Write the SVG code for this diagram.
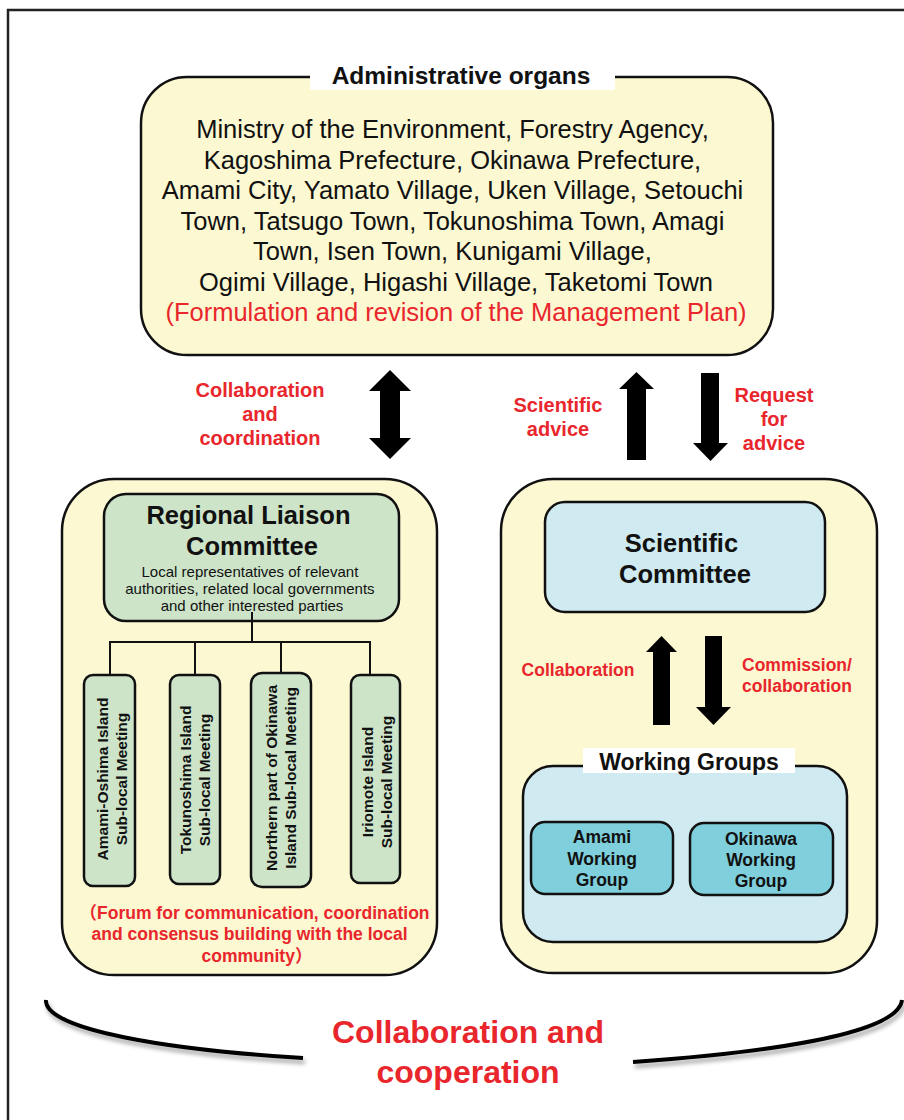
<svg xmlns="http://www.w3.org/2000/svg" width="904" height="1120" viewBox="0 0 904 1120">
<defs>
<filter id="sh" x="-5%" y="-20%" width="110%" height="160%">
<feDropShadow dx="2" dy="4" stdDeviation="2" flood-color="#000" flood-opacity="0.35"/>
</filter>
</defs>
<style>
text{font-family:"Liberation Sans","Noto Sans CJK JP",Arial,sans-serif;fill:#111}
.b{font-weight:bold}
.red{fill:#e8262c}
.yel{fill:#fbf8d2;stroke:#111;stroke-width:2.5}
.grn{fill:#cde4c9;stroke:#111;stroke-width:2.5}
.blu{fill:#cfeaf0;stroke:#111;stroke-width:2.5}
.teal{fill:#7fcfdc;stroke:#111;stroke-width:2.5}
.arr{fill:#000}
.ln{stroke:#111;stroke-width:2;fill:none}
.c{text-anchor:middle}
</style>
<rect width="904" height="1120" fill="#fff"/>
<path d="M904,10 H8 V1120" fill="none" stroke="#222" stroke-width="2.5"/>

<g id="admin">
<rect x="141" y="77" width="632" height="278" rx="46" class="yel" stroke-width="3"/>
<rect x="310" y="62" width="305" height="28" fill="#fff"/>
<text x="461" y="84" class="b c" font-size="24.5">Administrative organs</text>
<text class="c" font-size="25.5">
<tspan x="456" y="138">Ministry of the Environment, Forestry Agency,</tspan>
<tspan x="456" y="168.5">Kagoshima Prefecture, Okinawa Prefecture,</tspan>
<tspan x="456" y="199">Amami City, Yamato Village, Uken Village, Setouchi</tspan>
<tspan x="456" y="229.5">Town, Tatsugo Town, Tokunoshima Town, Amagi</tspan>
<tspan x="456" y="260">Town, Isen Town, Kunigami Village,</tspan>
<tspan x="456" y="290.5">Ogimi Village, Higashi Village, Taketomi Town</tspan>
</text>
<text x="456" y="321" class="c red" font-size="25.5">(Formulation and revision of the Management Plan)</text>
</g>

<g id="regional">
<rect x="62" y="479" width="375" height="496" rx="52" class="yel"/>
<text class="b c red" font-size="17.5">
<tspan x="257" y="919">（Forum for communication, coordination</tspan>
<tspan x="252" y="940">and consensus building with the local</tspan>
<tspan x="257" y="962">community）</tspan>
</text>
</g>

<g id="liaison">
<rect x="104" y="494" width="295" height="127" rx="22" class="grn"/>
<text class="b c" font-size="25.5">
<tspan x="252" y="524">Regional Liaison</tspan>
<tspan x="252" y="555">Committee</tspan>
</text>
<text class="c" font-size="15">
<tspan x="252" y="577">Local representatives of relevant</tspan>
<tspan x="252" y="594">authorities, related local governments</tspan>
<tspan x="252" y="611">and other interested parties</tspan>
</text>
</g>

<g id="sub1">
<rect x="84" y="675" width="51" height="211" rx="9" class="grn"/>
<text transform="translate(109.5,779) rotate(-90)" class="b c" font-size="15.5"><tspan x="0" y="-2">Amami-Oshima Island</tspan><tspan x="0" y="17">Sub-local Meeting</tspan></text>
</g>
<g id="sub2">
<rect x="170" y="675" width="50" height="209" rx="9" class="grn"/>
<text transform="translate(195,780) rotate(-90)" class="b c" font-size="15.5"><tspan x="0" y="-4">Tokunoshima Island</tspan><tspan x="0" y="15">Sub-local Meeting</tspan></text>
</g>
<g id="sub3">
<rect x="251" y="673" width="60" height="214" rx="11" class="grn"/>
<text transform="translate(281,778) rotate(-90)" class="b c" font-size="15.5"><tspan x="0" y="-4">Northern part  of Okinawa</tspan><tspan x="0" y="15">Island Sub-local Meeting</tspan></text>
</g>
<g id="sub4">
<rect x="351" y="675" width="49" height="208" rx="9" class="grn"/>
<text transform="translate(375.5,782) rotate(-90)" class="b c" font-size="15.5"><tspan x="0" y="-3">Iriomote Island</tspan><tspan x="0" y="16">Sub-local Meeting</tspan></text>
</g>

<g id="scientific-area">
<rect x="501" y="479" width="376" height="494" rx="52" class="yel"/>
</g>
<g id="scientific">
<rect x="545" y="502" width="280" height="110" rx="20" class="blu"/>
<text class="b c" font-size="25.5">
<tspan x="685" y="552">Scientific</tspan>
<tspan x="685" y="583">Committee</tspan>
</text>
</g>

<g id="working-groups">
<rect x="523" y="766" width="324" height="176" rx="30" class="blu"/>
<rect x="583" y="748" width="212" height="25" fill="#fff"/>
<text x="689" y="770" class="b c" font-size="23">Working Groups</text>
</g>
<g id="amami-wg">
<rect x="531" y="822" width="142" height="72" rx="14" class="teal"/>
<text class="b c" font-size="17.5"><tspan x="602" y="843">Amami</tspan><tspan x="602" y="865">Working</tspan><tspan x="602" y="886">Group</tspan></text>
</g>
<g id="okinawa-wg">
<rect x="690" y="823" width="143" height="72" rx="14" class="teal"/>
<text class="b c" font-size="17.5"><tspan x="761" y="845">Okinawa</tspan><tspan x="761" y="866">Working</tspan><tspan x="761" y="887">Group</tspan></text>
</g>

<g id="connectors">
<path class="ln" d="M252,612 V642 M109,642 H371 M110,642 V675 M195,642 V675 M281,642 V673 M370,642 V675"/>
<polygon class="arr" points="390,370 411,391 400,391 400,438 411,438 390,459 369,438 380,438 380,391 369,391"/>
<polygon class="arr" points="636.5,372 654,389 646,389 646,460 627,460 627,389 619,389"/>
<polygon class="arr" points="701,373 719,373 719,443 728,443 710.5,461 693,443 701,443"/>
<polygon class="arr" points="661.5,636 677,652 670,652 670,725 653,725 653,652 646,652"/>
<polygon class="arr" points="705,636 722,636 722,707 731,707 713.5,725 696,707 705,707"/>
<text class="b c red" font-size="20"><tspan x="260" y="397">Collaboration</tspan><tspan x="260" y="421">and</tspan><tspan x="260" y="445">coordination</tspan></text>
<text class="b c red" font-size="20"><tspan x="558" y="412">Scientific</tspan><tspan x="558" y="436">advice</tspan></text>
<text class="b c red" font-size="20"><tspan x="774" y="402">Request</tspan><tspan x="774" y="426">for</tspan><tspan x="774" y="450">advice</tspan></text>
<text x="578" y="676" class="b c red" font-size="17.5">Collaboration</text>
<text class="b red" font-size="17.5"><tspan x="742" y="671">Commission/</tspan><tspan x="742" y="692">collaboration</tspan></text>
</g>

<g id="cooperation">
<path d="M46,1000 C44,1030 170,1050 303,1058 M633,1062 C760,1053 898,1035 902,1000" fill="none" stroke="#000" stroke-width="4" filter="url(#sh)"/>
<text class="b c red" font-size="32"><tspan x="468" y="1043">Collaboration and</tspan><tspan x="468" y="1083">cooperation</tspan></text>
</g>
</svg>
